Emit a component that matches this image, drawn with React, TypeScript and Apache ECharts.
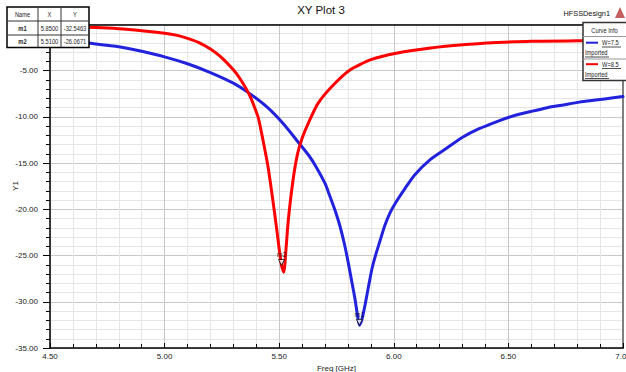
import React, { useEffect, useRef } from "react";
import * as echarts from "echarts";

const chartTitle = "XY Plot 3";
const designName = "HFSSDesign1";
const xAxisName = "Freq [GHz]";
const yAxisName = "Y1";

const seriesNames = ["W=7.5", "W=8.5"];
const seriesSub = ["Imported", "Imported"];
const seriesColors = ["#2222dd", "#ff0000"];

// W=7.5 (blue)
const freqA = [4.5, 4.6, 4.7, 4.8, 4.9, 5.0, 5.1, 5.2, 5.3, 5.37, 5.45, 5.52, 5.59, 5.63, 5.66, 5.7, 5.72, 5.745, 5.765, 5.785, 5.8, 5.815, 5.83, 5.84, 5.85, 5.86, 5.875, 5.89, 5.905, 5.92, 5.94, 5.96, 5.985, 6.01, 6.05, 6.09, 6.16, 6.23, 6.3, 6.37, 6.45, 6.52, 6.6, 6.67, 6.74, 6.81, 6.89, 6.95, 7.0];
const valA = [-1.7, -1.85, -2.1, -2.4, -2.9, -3.5, -4.25, -5.2, -6.35, -7.45, -9.0, -10.8, -12.95, -14.2, -15.35, -17.2, -18.5, -20.2, -21.8, -23.8, -25.6, -27.6, -29.6, -31.2, -32.55, -32.0, -30.3, -28.3, -26.4, -25.0, -23.4, -21.8, -20.3, -19.2, -17.7, -16.3, -14.6, -13.4, -12.2, -11.3, -10.5, -9.9, -9.4, -9.0, -8.7, -8.4, -8.15, -7.95, -7.8];

// W=8.5 (red)
const freqB = [4.5, 4.6, 4.7, 4.8, 4.9, 5.0, 5.05, 5.1, 5.15, 5.2, 5.25, 5.3, 5.33, 5.37, 5.39, 5.41, 5.43, 5.45, 5.47, 5.49, 5.5, 5.51, 5.52, 5.53, 5.54, 5.56, 5.58, 5.6, 5.63, 5.67, 5.73, 5.81, 5.9, 6.01, 6.16, 6.3, 6.45, 6.6, 6.8, 7.0];
const valB = [-0.25, -0.28, -0.33, -0.45, -0.67, -0.95, -1.15, -1.5, -1.95, -2.65, -3.6, -4.9, -5.9, -7.6, -8.8, -10.2, -12.6, -15.2, -18.6, -22.3, -24.3, -26.07, -26.8, -24.2, -21.1, -16.9, -14.0, -12.3, -10.5, -8.5, -6.7, -4.9, -3.8, -3.1, -2.55, -2.2, -1.96, -1.8, -1.77, -1.75];

const markerNames = ["m1", "m2"];
const markerX = [5.85, 5.51];
const markerY = [-32.5463, -26.0671];

const xTicks = { min: 4.5, max: 7.0, interval: 0.5 };
const yTicks = { min: -35, max: 0, interval: 5 };

const FONT = "Liberation Sans";
const TOP = 200;

export default function App() {
  const ref = useRef<HTMLDivElement>(null);
  useEffect(() => {
    if (!ref.current) return;
    const chart = echarts.init(ref.current, undefined, { renderer: "svg" });

    const lineSeries = [
      { x: freqA, y: valA },
      { x: freqB, y: valB },
    ].map((s, i) => ({
      type: "line",
      name: seriesNames[i],
      data: s.x.map((f, k) => [f, s.y[k]]),
      showSymbol: false,
      symbol: "none",
      smooth: 0.2,
      lineStyle: { color: seriesColors[i], width: 3, cap: "round", join: "round" },
      z: 3,
    }));

    const markerSeries = {
      type: "scatter",
      data: markerNames.map((n, i) => ({ name: n, value: [markerX[i], markerY[i]] })),
      symbol: "triangle",
      symbolRotate: 180,
      symbolSize: 6,
      symbolOffset: [0, -3],
      itemStyle: { color: "#ffffff", borderColor: "#000", borderWidth: 1 },
      label: {
        show: true,
        position: "top",
        distance: 1,
        formatter: (p: any) => p.name,
        fontSize: 7,
        fontFamily: FONT,
        color: "#000",
      },
      z: 5,
    };

    const txt = (x: number, y: number, text: string, opts: any = {}) => ({
      type: "text",
      x,
      y,
      z: TOP + 1,
      scaleX: opts.scaleX ?? 0.88,
      style: {
        text,
        fontSize: opts.fontSize ?? 6.5,
        fontFamily: FONT,
        fontWeight: opts.bold ? "bold" : "normal",
        fill: "#222",
        align: opts.align ?? "center",
        verticalAlign: "middle",
      },
    });
    const ln = (x1: number, y1: number, x2: number, y2: number, stroke: string, lw: number) => ({
      type: "line",
      z: TOP + 1,
      shape: { x1, y1, x2, y2 },
      style: { stroke, lineWidth: lw },
    });

    // Marker table
    const colX = [7, 38, 61, 89], rowY = [7, 21, 35, 47.5];
    const tableEls: any[] = [
      { type: "rect", z: TOP, shape: { x: 7, y: 7, width: 82, height: 40.5 }, style: { fill: "#fff", stroke: "#000", lineWidth: 1.5 } },
      ln(colX[1], rowY[0], colX[1], rowY[3], "#333", 1),
      ln(colX[2], rowY[0], colX[2], rowY[3], "#333", 1),
      ln(colX[0], rowY[1], colX[3], rowY[1], "#333", 1),
      ln(colX[0], rowY[2], colX[3], rowY[2], "#333", 1),
    ];
    ["Name", "X", "Y"].forEach((h, c) => {
      tableEls.push(txt((colX[c] + colX[c + 1]) / 2, (rowY[0] + rowY[1]) / 2, h));
    });
    markerNames.forEach((n, r) => {
      const cells = [n, markerX[r].toFixed(4), markerY[r].toFixed(4)];
      cells.forEach((t, c) => {
        tableEls.push(txt((colX[c] + colX[c + 1]) / 2, (rowY[r + 1] + rowY[r + 2]) / 2, t, { bold: c === 0 }));
      });
    });

    // Legend box
    const lx = 583, ly = 22.5;
    const legendEls: any[] = [
      { type: "rect", z: TOP, shape: { x: lx, y: ly, width: 50, height: 58 }, style: { fill: "#fff", stroke: "#333", lineWidth: 1.5 } },
      txt(604.5, 30.5, "Curve Info"),
      ln(lx, 36.5, 626, 36.5, "#999", 1),
    ];
    seriesNames.forEach((n, i) => {
      const oy = i * 21.5;
      legendEls.push(
        ln(586, 42.7 + oy, 598, 42.7 + oy, seriesColors[i], 2),
        txt(602, 42.7 + oy, n, { align: "left" }),
        ln(602, 47 + oy, 621, 47 + oy, "#222", 0.8),
        txt(585, 52.7 + oy, seriesSub[i], { align: "left" }),
        ln(585, 57 + oy, 609, 57 + oy, "#222", 0.8)
      );
      if (i === 0) legendEls.push(ln(lx, 59, 626, 59, "#999", 1));
    });

    const option: any = {
      animation: false,
      backgroundColor: "#ffffff",
      textStyle: { fontFamily: FONT },
      grid: { left: 50, right: 3, top: 24.5, bottom: 24, containLabel: false, outerBoundsMode: "none" },
      xAxis: [
        {
          type: "value",
          min: xTicks.min,
          max: xTicks.max,
          interval: xTicks.interval,
          name: xAxisName,
          nameLocation: "middle",
          nameGap: 16,
          nameTextStyle: { fontSize: 8, color: "#222", fontFamily: FONT },
          axisLine: { show: true, onZero: false, lineStyle: { color: "#000", width: 1.5 } },
          axisTick: { show: true, inside: true, length: 5, lineStyle: { color: "#000" } },
          minorTick: { show: true, splitNumber: 5, length: 4, lineStyle: { color: "#000" } },
          axisLabel: { formatter: (v: number) => v.toFixed(2), fontSize: 8, color: "#222", margin: 4, fontFamily: FONT },
          splitLine: { show: true, lineStyle: { color: "#c8c8c8", width: 1 } },
          minorSplitLine: { show: true, lineStyle: { color: "#e6e6e6", width: 1 } },
        },
        {
          type: "value",
          position: "top",
          min: xTicks.min,
          max: xTicks.max,
          interval: xTicks.interval,
          axisLine: { show: true, onZero: false, lineStyle: { color: "#000", width: 1.5 } },
          axisTick: { show: false },
          axisLabel: { show: false },
          splitLine: { show: false },
        },
      ],
      yAxis: [
        {
          type: "value",
          min: yTicks.min,
          max: yTicks.max,
          interval: yTicks.interval,
          axisLine: { show: true, onZero: false, lineStyle: { color: "#000", width: 1.5 } },
          axisTick: { show: true, length: 7, lineStyle: { color: "#000" } },
          minorTick: { show: true, splitNumber: 5, length: 4, lineStyle: { color: "#000" } },
          axisLabel: { formatter: (v: number) => v.toFixed(2), fontSize: 8, color: "#222", margin: 12, fontFamily: FONT },
          splitLine: { show: true, lineStyle: { color: "#c8c8c8", width: 1 } },
          minorSplitLine: { show: true, lineStyle: { color: "#e6e6e6", width: 1 } },
        },
        {
          type: "value",
          position: "right",
          min: yTicks.min,
          max: yTicks.max,
          interval: yTicks.interval,
          axisLine: { show: true, onZero: false, lineStyle: { color: "#808080", width: 2 } },
          axisTick: { show: false },
          axisLabel: { show: false },
          splitLine: { show: false },
        },
      ],
      series: [...lineSeries, markerSeries],
      graphic: [
        { type: "text", x: 321, y: 10, z: TOP, style: { text: chartTitle, fontSize: 11.5, fontFamily: FONT, fill: "#111", align: "center", verticalAlign: "middle" } },
        { type: "text", x: 610, y: 13, z: TOP, scaleX: 0.92, style: { text: designName, fontSize: 8, fontFamily: FONT, fill: "#111", align: "right", verticalAlign: "middle" } },
        { type: "text", x: 15, y: 186, rotation: Math.PI / 2, z: TOP, style: { text: yAxisName, fontSize: 8, fontFamily: FONT, fill: "#222", align: "center", verticalAlign: "middle" } },
        { type: "polygon", z: TOP, shape: { points: [[615, 18], [620, 7], [625, 18]] }, style: { fill: "#c46060" } },
        ...tableEls,
        ...legendEls,
      ],
    };
    chart.setOption(option);
    return () => chart.dispose();
  }, []);
  return (
    <div
      ref={ref}
      style={{ position: "fixed", left: 0, top: 0, width: 626, height: 372, background: "#fff" }}
    />
  );
}
